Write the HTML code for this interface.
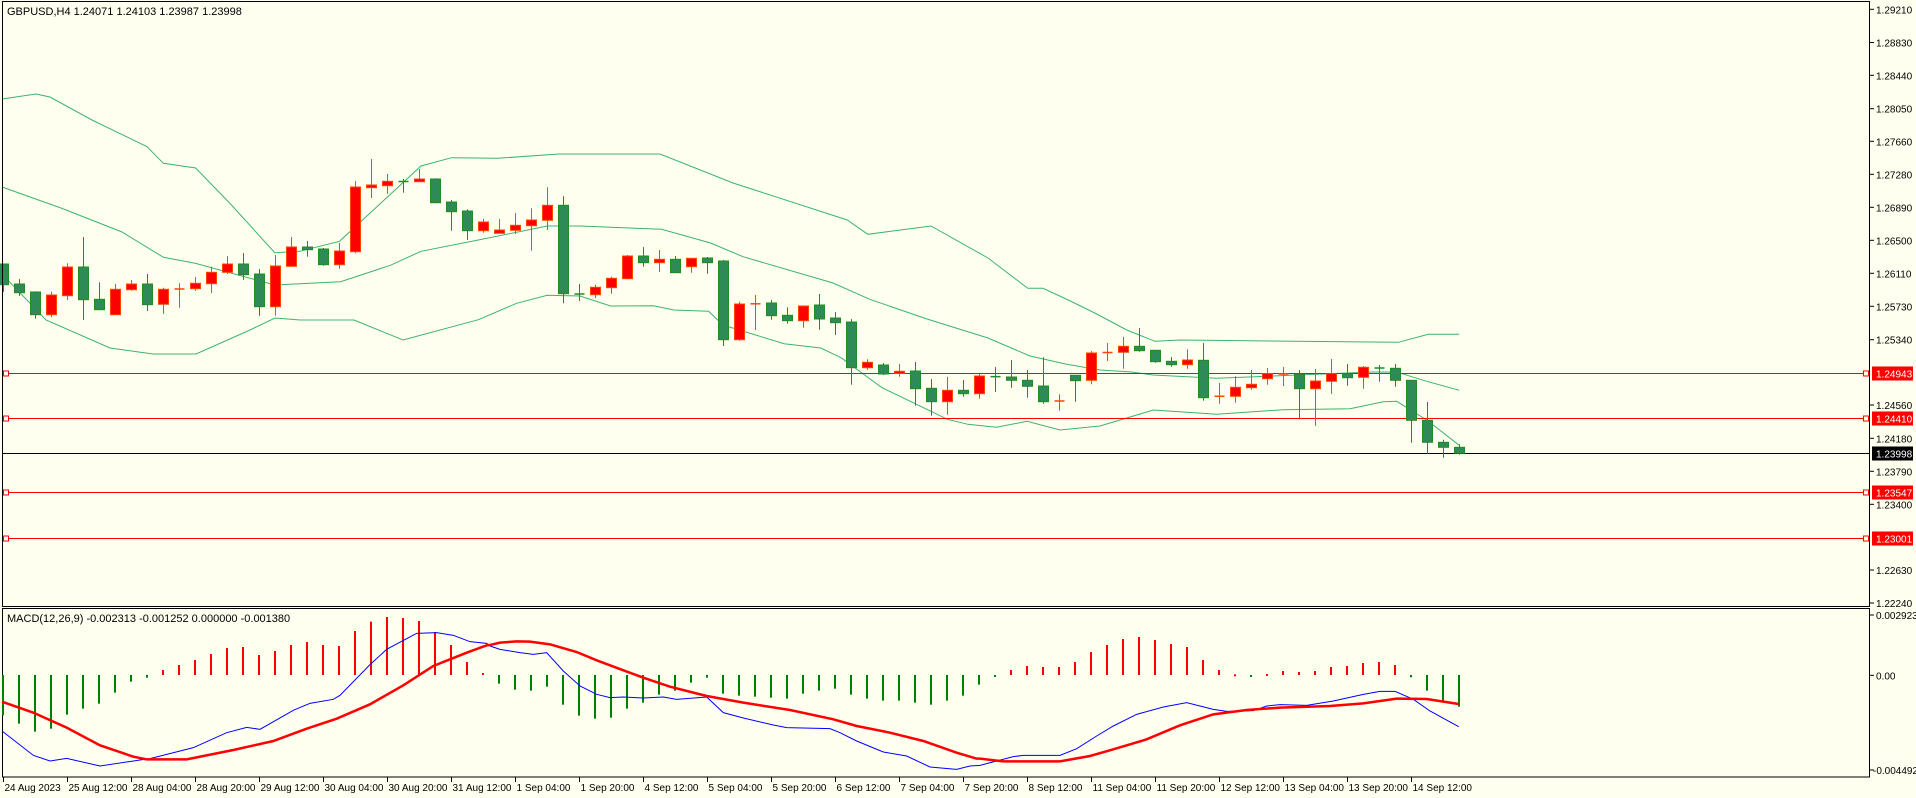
<!DOCTYPE html>
<html><head><meta charset="utf-8"><style>
html,body{margin:0;padding:0;background:#fffff0;}
svg{display:block;}
text{font-family:"Liberation Sans",sans-serif;font-size:11px;fill:#000;}
text.ax{font-size:10px;}
</style></head><body>
<svg id="s" width="1916" height="798" xmlns="http://www.w3.org/2000/svg"></svg>
<script>
const S=document.getElementById('s');let h='';
h+='<rect x="0" y="0" width="1916" height="798" fill="#fffff0"/>';
function pl(pts,col,w){return '<polyline fill="none" stroke="'+col+'" stroke-width="'+w+'" points="'+pts.map(p=>p[0]+','+p[1]).join(' ')+'"/>';}
const up=[[2,99],[36,94],[50,97],[92,120],[147,146.7],[163.4,163.3],[195.6,168],[229.6,203],[274.8,252.7],[299.7,251.3],[339.5,241.3],[421,166],[451.6,157.7],[497.5,158.3],[558.7,154],[660,154],[733,183],[847.3,220],[867.8,234.3],[931,226],[988,258],[1027.8,288.3],[1043,288.3],[1068.3,300],[1096.7,314],[1126.7,330],[1155,341.3],[1180,340],[1371.7,342],[1398.3,342.3],[1428.3,334.3],[1459.3,334.3]];
const md=[[2,187],[61,208],[122,232],[163.4,257.3],[195.2,263.3],[274.8,285],[340.6,281.7],[390.4,265.3],[421,251.3],[478.4,240],[547.3,226],[580,226],[661.6,229.3],[710.6,243],[743,256.7],[833,283],[869.8,299.3],[927,319],[988,338],[1030,356],[1066.7,364.3],[1100,370],[1131.7,372],[1153,375],[1216.7,378.3],[1371.7,372],[1396.7,372],[1426.7,381.3],[1459.3,390.3]];
const lo=[[2,274],[46,320],[110,348],[153,354],[196,354],[250,330],[275,318],[300,320],[354,320],[403,340],[478.4,319.7],[516.6,303.3],[547.3,295.3],[580,296],[610.6,306],[653.5,305.7],[673.9,310],[708.6,311.3],[722.9,325],[784,343.7],[820.8,348],[841,357.7],[882,387.7],[931,411.3],[947.3,419.3],[967.8,424.3],[996.3,427.3],[1027,421.3],[1060,430],[1100,426],[1153.3,410],[1216.7,414.3],[1283.3,409.7],[1350,408.7],[1383.3,401.7],[1396.7,401.3],[1426.7,420],[1459.3,445.3]];
[up,md,lo].forEach(a=>h+=pl(a,'#3cb371',1));
[[373.5,'#ff0000'],[418.5,'#ff0000'],[492.5,'#ff0000'],[538.5,'#ff0000']].forEach(l=>{
h+='<line x1="2" x2="1870" y1="'+l[0]+'" y2="'+l[0]+'" stroke="'+l[1]+'" stroke-width="1"/>';
h+='<rect x="3.5" y="'+(l[0]-2.5)+'" width="5" height="5" fill="#fffff0" stroke="#ff0000"/>';
h+='<rect x="1863.5" y="'+(l[0]-2.5)+'" width="5" height="5" fill="#fffff0" stroke="#ff0000"/>';
});
h+='<line x1="2" x2="1870" y1="453.5" y2="453.5" stroke="#000" stroke-width="1"/>';
const C=[[264,284.7,264,291.7,'g'],[284,292.7,279,296,'g'],[292,314.7,291.3,318.7,'g'],[295,314.7,291.7,317.3,'r'],[267,295.7,263.3,300,'r'],[267,299.7,237,320,'g'],[299.3,309.7,282.3,309.7,'g'],[289.3,314.7,284,314.7,'r'],[284,289.7,280,290.7,'r'],[284,304.7,274,311,'g'],
[289.3,304.3,287.7,313.7,'r'],[288.3,289.7,283.3,307.7,'r'],[283.3,288.7,277,290.7,'r'],[272.3,283.7,266.7,293,'r'],[264,272.3,256,274,'r'],[264,274.7,253,279.7,'g'],[274,306.7,269,315.7,'g'],[266,306.7,255,315.7,'r'],[247,266.3,237,266.3,'r'],[247,249.7,241,256.7,'g'],
[249,264.7,248,265.7,'g'],[251,264.7,243,268.7,'r'],[187,251.7,181,253.3,'r'],[185,187.7,159,198,'r'],[181.3,185.7,174,193.7,'r'],[181,182,179,192.7,'g'],[179,181.7,169,182,'r'],[179,202.7,178.3,203.3,'g'],[202,211.7,200,230.7,'g'],[211,230.7,209.3,240,'g'],
[222,230.7,219,232.7,'r'],[230,233.3,219,233.7,'r'],[225.3,230.3,213,234,'r'],[220,225.7,208.3,250.7,'r'],[205.3,220.3,187.3,230,'r'],[205.3,293.7,196.3,303.3,'g'],[293.5,294.5,284,301,'g'],[287.3,294.7,284.7,298,'r'],[278.3,287.7,276.7,293.7,'r'],[256,278.7,255,279.3,'r'],
[256,262.7,247,266.7,'g'],[259.3,262.7,250,272,'r'],[259.3,272.7,256,272.7,'g'],[258.3,266.7,258.3,272.7,'r'],[258,262.7,257,273.7,'g'],[261,339.7,260,346,'g'],[304,339.7,301.7,340.7,'r'],[303.3,304.3,295,330,'r'],[303,315.7,300,319.7,'g'],[315.3,320.7,307.3,323.7,'g'],
[306,320.7,306,327.7,'r'],[305,319,294,329.7,'g'],[318,322.7,312,335,'g'],[322,367.7,319,384.7,'g'],[362.3,367.7,359.3,369.7,'r'],[365,374,363,375,'g'],[371.3,373.3,364,376.7,'r'],[371,388.7,362,405.7,'g'],[388.3,401.7,379,415.7,'g'],[390.3,401.7,377,414.7,'r'],
[390.3,393.7,380,396.7,'g'],[376,393.7,373.7,398.7,'r'],[376,377.3,367,392,'g'],[377,380.3,360,387.7,'g'],[380.3,386.3,370,397.7,'g'],[386,401.7,357.3,403.7,'g'],[400.5,401.5,394.3,410.7,'r'],[375.3,380.7,375.3,401.7,'g'],[353,380.3,351,384.3,'r'],[352,353,343,361,'r'],
[346.3,352.3,337,368.7,'r'],[346.3,350.7,328,351.7,'g'],[350.3,361.7,350.3,362.7,'g'],[361.3,364.7,357,366.7,'g'],[360,364.7,349.3,368.7,'r'],[360.3,397.7,343,400.7,'g'],[395.8,396.8,383,403.7,'r'],[387.3,396.3,376.3,402.7,'r'],[384.3,387.7,370,389.7,'r'],[373.7,378.7,368,384.7,'r'],
[373.5,374.5,367,386,'r'],[374,388.7,370,419.3,'g'],[381,388.7,369,425.7,'r'],[373.7,381.3,359,393.7,'r'],[373.7,377.7,364,385.7,'g'],[367.3,377.3,366,388.7,'r'],[367.5,368.5,365,381.7,'g'],[368.3,380.3,364,386.7,'g'],[380.3,420.3,380.3,442.7,'g'],[420.3,442.3,402,453.7,'g'],
[442.3,447.3,439.7,457.7,'g'],[447.3,453.3,444.3,454.7,'g']];
let ch='';
C.forEach((c,i)=>{const x=Math.round(3.3+16*i)+0.5;const g=c[4]=='g';
const wc=g?'#228b22':'#ff4500';const fc=g?'#2e8b57':'#ff0000';
ch+='<line x1="'+x+'" x2="'+x+'" y1="'+c[2]+'" y2="'+c[3]+'" stroke="'+wc+'"/>';
let t=c[0],b=c[1];if(b-t<1.5){ch+='<line x1="'+(x-5)+'" x2="'+(x+5)+'" y1="'+((t+b)/2)+'" y2="'+((t+b)/2)+'" stroke="'+wc+'" stroke-width="1.5"/>';}
else ch+='<rect x="'+(x-5)+'" y="'+t+'" width="10" height="'+(b-t)+'" fill="'+fc+'" stroke="'+wc+'" stroke-width="1"/>';});
h+='<svg x="0" y="0" width="1870" height="606" overflow="hidden">'+ch+'</svg>';
h+='<rect x="2.5" y="1.5" width="1867" height="605" fill="none" stroke="#000"/>';
h+='<rect x="2.5" y="608.5" width="1867" height="168.5" fill="none" stroke="#000"/>';
h+='<text x="7" y="15">GBPUSD,H4  1.24071 1.24103 1.23987 1.23998</text>';
const tk=[['1.29210',9.3],['1.28830',42.5],['1.28440',75.3],['1.28050',108.7],['1.27660',141.3],['1.27280',174.3],['1.26890',207.3],['1.26500',240.3],['1.26110',273.3],['1.25730',306.3],['1.25340',339.7],['1.24560',405],['1.24180',438.3],['1.23790',471.3],['1.23400',504.3],['1.22630',570],['1.22240',603]];
tk.forEach(t=>{h+='<line x1="1870" x2="1874" y1="'+t[1]+'" y2="'+t[1]+'" stroke="#000"/><text class="ax" x="1876" y="'+(t[1]+4)+'">'+t[0]+'</text>';});
[['1.24943',373.5,'#ff0000'],['1.24410',418.5,'#ff0000'],['1.23998',453.5,'#000'],['1.23547',492.5,'#ff0000'],['1.23001',538.5,'#ff0000']].forEach(t=>{
h+='<rect x="1872" y="'+(t[1]-7)+'" width="41" height="14" fill="'+t[2]+'"/><text class="ax" x="1876" y="'+(t[1]+4)+'" style="fill:#fff">'+t[0]+'</text>';});
[['0.002923',615],['0.00',675.3],['-0.004492',770]].forEach(t=>{h+='<line x1="1870" x2="1874" y1="'+t[1]+'" y2="'+t[1]+'" stroke="#000"/><text class="ax" x="'+(t[0][0]=='-'?1873:1876)+'" y="'+(t[1]+4)+'">'+t[0]+'</text>';});
const H8=[328,353,377,368,326,308,293,260,227,215,192,177,162,144,126,123,147,135,117,108,117,120,75,47,33,36,45,78,117,168,201];
const H9=[233,251,254,242,296,329,338,335,308,290,266,254,230,215,263,269,272,275,278,263,254,248,266,278,284,284,290,296,284,269,236];
const H10=[212,192,180,183,183,168,138,117,99,93,102,114,123,162,192,205,212,204,195,198,195,183,180,171,168,177,214,254,284,302];
const HV=H8.concat(H9,H10);
HV.forEach((v,i)=>{const x=Math.round(3.3+16*i);const y=606+v/3;const z=675;
let col=(y>z)?'#008000':'#ff0000';
let t=Math.min(y,z),b=Math.max(y,z);if(b-t<2){b=t+2;}
h+='<rect x="'+(x-1)+'" y="'+t+'" width="2" height="'+(b-t)+'" fill="'+col+'"/>';});
function cv(a,ox){return a.map(p=>[ox+p[0]/3,606+p[1]/3]);}
const red=cv([[6,287],[100,320],[200,365],[300,418],[400,452],[440,460],[560,460],[700,432],[820,405],[920,368],[1010,338],[1110,295],[1210,238],[1300,180],[1400,140],[1460,118]],0)
.concat(cv([[0,117],[30,110],[80,106],[120,107],[180,115],[260,138],[320,163],[400,193],[460,215],[540,242],[650,270],[760,290],[900,312],[1030,340],[1100,360],[1200,380],[1300,405],[1400,440],[1460,458]],490))
.concat(cv([[0,458],[70,466],[240,466],[330,450],[400,430],[500,400],[600,358],[700,325],[800,312],[900,305],[1050,300],[1150,292],[1250,278],[1340,279],[1436,294]],980));
const blue=cv([[6,375],[100,448],[150,465],[200,457],[300,480],[420,462],[450,458],[580,425],[680,380],[740,364],[780,370],[880,313],[930,292],[1000,280],[1020,268],[1110,176],[1160,130],[1250,82],[1310,80],[1360,88],[1410,107],[1460,112]],0)
.concat(cv([[0,120],[30,130],[90,140],[130,145],[170,140],[220,195],[270,240],[320,265],[360,275],[400,273],[460,276],[520,273],[560,280],[650,273],[700,320],[760,336],[850,357],[890,365],[1020,368],[1050,380],[1100,405],[1180,438],[1250,450],[1320,483],[1400,490],[1440,480]],490))
.concat(cv([[0,478],[100,452],[130,448],[240,448],[290,428],[350,390],[400,360],[470,325],[550,303],[620,290],[700,310],[740,316],[820,314],[860,300],[900,296],[980,298],[1060,285],[1150,265],[1200,256],[1245,256],[1300,280],[1350,315],[1436,362]],980));
h+=pl(blue,'#0000ff',1);h+=pl(red,'#ff0000',2.5);
h+='<text x="7" y="622">MACD(12,26,9) -0.002313 -0.001252 0.000000 -0.001380</text>';
const L=['24 Aug 2023','25 Aug 12:00','28 Aug 04:00','28 Aug 20:00','29 Aug 12:00','30 Aug 04:00','30 Aug 20:00','31 Aug 12:00','1 Sep 04:00','1 Sep 20:00','4 Sep 12:00','5 Sep 04:00','5 Sep 20:00','6 Sep 12:00','7 Sep 04:00','7 Sep 20:00','8 Sep 12:00','11 Sep 04:00','11 Sep 20:00','12 Sep 12:00','13 Sep 04:00','13 Sep 20:00','14 Sep 12:00'];
L.forEach((l,k)=>{const x=Math.round(2.7+64*k)+0.5;h+='<line x1="'+x+'" x2="'+x+'" y1="777" y2="782" stroke="#000"/><text class="ax" x="'+(x+1)+'" y="791">'+l+'</text>';});
S.innerHTML=h;
</script>
</body></html>
